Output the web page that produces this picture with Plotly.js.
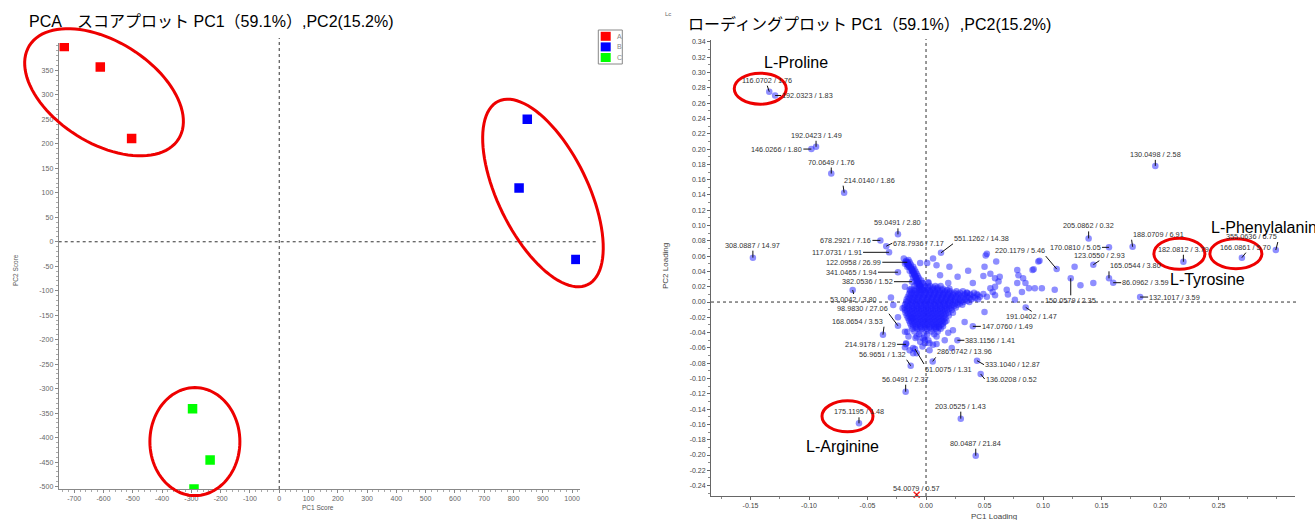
<!DOCTYPE html>
<html><head><meta charset="utf-8">
<script src="https://cdn.plot.ly/plotly-3.0.1.min.js"></script>
<style>html,body{margin:0;padding:0;background:#fff}#chart{width:1315px;height:520px}</style>
</head><body><div id="chart"></div>
<script>
// ================= DATA =================
// --- Score plot (left)
const groupNames  = ['A', 'B', 'C'];
const groupColors = ['#ff0000', '#0000ff', '#00ff00'];
const scoreAX = [-734, -611, -504];
const scoreAY = [399, 357, 211];
const scoreBX = [847, 819, 1013];
const scoreBY = [250, 110, -36];
const scoreCX = [-296, -236, -291];
const scoreCY = [-341, -446, -505];
const scoreXTickVals = [-700, -600, -500, -400, -300, -200, -100, 0, 100, 200, 300, 400, 500, 600, 700, 800, 900, 1000];
const scoreXTickText = ['-700', '-600', '-500', '-400', '-300', '-200', '-100', '0', '100', '200', '300', '400', '500', '600', '700', '800', '900', '1000'];
const scoreYTickVals = [-500, -450, -400, -350, -300, -250, -200, -150, -100, -50, 0, 50, 100, 150, 200, 250, 300, 350];
const scoreYTickText = ['-500', '-450', '-400', '-350', '-300', '-250', '-200', '-150', '-100', '-50', '0', '50', '100', '150', '200', '250', '300', '350'];

// --- Loading plot (right): labelled features
const loadLabels = ['116.0702 / 1.76', '192.0323 / 1.83', '192.0423 / 1.49', '146.0266 / 1.80', '70.0649 / 1.76', '214.0140 / 1.86',
  '130.0498 / 2.58', '308.0887 / 14.97', '59.0491 / 2.80', '678.2921 / 7.16', '678.7936 / 7.17', '117.0731 / 1.91',
  '122.0958 / 26.99', '341.0465 / 1.94', '382.0536 / 1.52', '53.0042 / 3.80', '98.9830 / 27.06', '168.0654 / 3.53',
  '214.9178 / 1.29', '56.9651 / 1.32', '61.0075 / 1.31', '286.0742 / 13.96', '333.1040 / 12.87', '136.0208 / 0.52',
  '56.0491 / 2.37', '175.1195 / 1.48', '203.0525 / 1.43', '80.0487 / 21.84', '551.1262 / 14.38', '220.1179 / 5.46',
  '205.0862 / 0.32', '170.0810 / 5.05', '123.0550 / 2.93', '188.0709 / 6.91', '165.0544 / 3.80', '86.0962 / 3.59',
  '150.0579 / 2.35', '132.1017 / 3.59', '191.0402 / 1.47', '147.0760 / 1.49', '383.1156 / 1.41', '182.0812 / 3.79',
  '166.0861 / 5.70', '355.0636 / 6.75'];
const loadX = [-0.134, -0.129, -0.094, -0.098, -0.081, -0.070,
  0.196, -0.148, -0.024, -0.039, -0.034, -0.0316,
  -0.016, -0.024, -0.012, -0.0627, -0.024, -0.0368,
  -0.0171, -0.0131, -0.0094, 0.0057, 0.0436, 0.0467,
  -0.0174, -0.0573, 0.0297, 0.0425, 0.0128, 0.1117,
  0.139, 0.1564, 0.143, 0.1766, 0.1564, 0.160,
  0.1237, 0.183, 0.0852, 0.040, 0.0268, 0.220,
  0.270, 0.299];
const loadY = [0.275, 0.270, 0.203, 0.200, 0.168, 0.143,
  0.178, 0.058, 0.0885, 0.0806, 0.073, 0.065,
  0.052, 0.039, 0.0266, 0.0157, -0.031, -0.0427,
  -0.0553, -0.0833, -0.0614, -0.0776, -0.0767, -0.0941,
  -0.1172, -0.1586, -0.1525, -0.2009, 0.0644, 0.0431,
  0.0832, 0.0715, 0.0488, 0.0723, 0.031, 0.0253,
  0.031, 0.0065, -0.007, -0.0318, -0.050, 0.0527,
  0.058, 0.068];
// off-scale feature (drawn as red cross on the lower edge)
const offLabels = ['54.0079 / 0.57'];
const offX = [-0.008];
const offY = [-0.252];

// --- Loading plot: unlabelled features (dense cloud), rows of [pc2, [pc1...]]
const cloudRows = [
  [0.025,  [-0.0075, -0.003, 0.002]],
  [0.021,  [-0.010, -0.0055, -0.001, 0.0035, 0.008, 0.0125]],
  [0.0175, [-0.0125, -0.008, -0.0035, 0.001, 0.0055, 0.0095, 0.0145, 0.020]],
  [0.014,  [-0.0135, -0.009, -0.005, -0.0005, 0.0035, 0.0075, 0.0115, 0.016, 0.0205, 0.026, 0.0315]],
  [0.0105, [-0.0145, -0.0105, -0.006, -0.002, 0.0025, 0.0065, 0.0105, 0.0145, 0.0185, 0.023, 0.0275, 0.033, 0.038, 0.0435, 0.049]],
  [0.007,  [-0.0155, -0.011, -0.007, -0.003, 0.0015, 0.0055, 0.0095, 0.0135, 0.0175, 0.0215, 0.0255, 0.030, 0.035, 0.0405, 0.046, 0.052]],
  [0.0035, [-0.0165, -0.012, -0.008, -0.0035, 0.0005, 0.0045, 0.0085, 0.0125, 0.0165, 0.0205, 0.0245, 0.029, 0.034, 0.039, 0.0445]],
  [0.0,    [-0.017, -0.013, -0.009, -0.005, -0.001, 0.003, 0.007, 0.011, 0.015, 0.019, 0.023, 0.0275, 0.032, 0.037]],
  [-0.0035,[-0.018, -0.014, -0.0095, -0.0055, -0.0015, 0.0025, 0.0065, 0.0105, 0.0145, 0.0185, 0.0225, 0.027, 0.031]],
  [-0.007, [-0.0185, -0.0145, -0.0105, -0.0065, -0.0025, 0.0015, 0.0055, 0.0095, 0.0135, 0.0175, 0.0215, 0.0255]],
  [-0.0105,[-0.018, -0.014, -0.010, -0.006, -0.002, 0.002, 0.006, 0.010, 0.014, 0.018, 0.022]],
  [-0.014, [-0.0175, -0.0135, -0.0095, -0.0055, -0.0015, 0.0025, 0.0065, 0.0105, 0.0145, 0.019]],
  [-0.0175,[-0.0165, -0.0125, -0.0085, -0.0045, -0.0005, 0.0035, 0.0075, 0.0115, 0.0155, 0.0195]],
  [-0.021, [-0.0155, -0.0115, -0.0075, -0.0035, 0.0005, 0.0045, 0.0085, 0.0125, 0.0165]],
  [-0.0245,[-0.0145, -0.0105, -0.0065, -0.0025, 0.0015, 0.0055, 0.0095, 0.0135, 0.0175]],
  [-0.028, [-0.0135, -0.0095, -0.0055, -0.0015, 0.0025, 0.0065, 0.0105, 0.0145]],
  [-0.0315,[-0.0125, -0.0085, -0.0045, -0.0005, 0.0035, 0.0075, 0.011, 0.0145]],
  [-0.035, [-0.0115, -0.0075, -0.0035, 0.0005, 0.0045, 0.0085, 0.0125]],
  [-0.0385,[-0.010, -0.005, 0.000, 0.005, 0.010]],
  [-0.042, [-0.006, 0.001, 0.007]],
  [-0.0455,[-0.0015]],
  [-0.050, [0.002]]
];
// interleaved rows of the dense core
const cloudRows2 = [
  [0.019,   [-0.006, -0.002, 0.002, 0.006, 0.010]],
  [0.0158,  [-0.010, -0.006, -0.002, 0.002, 0.006, 0.010, 0.014, 0.018]],
  [0.0122,  [-0.012, -0.008, -0.004, 0.000, 0.004, 0.008, 0.012, 0.016, 0.020, 0.024, 0.029, 0.035, 0.041]],
  [0.0088,  [-0.013, -0.009, -0.005, -0.001, 0.003, 0.007, 0.011, 0.015, 0.019, 0.023, 0.028, 0.033, 0.038, 0.044]],
  [0.0052,  [-0.014, -0.010, -0.006, -0.002, 0.002, 0.006, 0.010, 0.014, 0.018, 0.022, 0.027, 0.032, 0.037, 0.042]],
  [0.0018,  [-0.015, -0.011, -0.007, -0.003, 0.001, 0.005, 0.009, 0.013, 0.017, 0.021, 0.025, 0.030, 0.035]],
  [-0.0018, [-0.016, -0.012, -0.008, -0.004, 0.000, 0.004, 0.008, 0.012, 0.016, 0.020, 0.025, 0.029]],
  [-0.0052, [-0.016, -0.012, -0.008, -0.004, 0.000, 0.004, 0.008, 0.012, 0.016, 0.020, 0.024]],
  [-0.0088, [-0.016, -0.012, -0.008, -0.004, 0.000, 0.004, 0.008, 0.012, 0.016, 0.020]],
  [-0.0122, [-0.016, -0.012, -0.008, -0.004, 0.000, 0.004, 0.008, 0.012, 0.016]],
  [-0.0158, [-0.015, -0.011, -0.007, -0.003, 0.001, 0.005, 0.009, 0.013, 0.017]],
  [-0.0192, [-0.014, -0.010, -0.006, -0.002, 0.002, 0.006, 0.010, 0.014]],
  [-0.0228, [-0.013, -0.009, -0.005, -0.001, 0.003, 0.007, 0.011, 0.015]],
  [-0.0262, [-0.012, -0.008, -0.004, 0.000, 0.004, 0.008, 0.012]],
  [-0.0298, [-0.011, -0.007, -0.003, 0.001, 0.005, 0.009, 0.013]],
  [-0.0332, [-0.009, -0.005, -0.001, 0.003, 0.007, 0.011]]
];
const cloudArm = [
  [-0.019, 0.057], [-0.017, 0.054], [-0.016, 0.051], [-0.015, 0.048], [-0.013, 0.045], [-0.012, 0.042], [-0.011, 0.039],
  [-0.010, 0.036], [-0.009, 0.033], [-0.008, 0.030], [-0.007, 0.027], [-0.006, 0.024], [-0.005, 0.021],
  [-0.015, 0.055], [-0.014, 0.052], [-0.013, 0.049], [-0.011, 0.046], [-0.010, 0.043], [-0.009, 0.040], [-0.008, 0.037],
  [-0.007, 0.034], [-0.006, 0.031], [-0.004, 0.028], [-0.003, 0.025],
  [-0.018, 0.050], [-0.016, 0.046], [-0.014, 0.041], [-0.012, 0.036], [-0.011, 0.032], [-0.009, 0.028], [-0.008, 0.024],
  [-0.0175, 0.0525], [-0.0155, 0.0495], [-0.0145, 0.0465], [-0.0125, 0.0435], [-0.0115, 0.0405], [-0.0105, 0.0375],
  [-0.0095, 0.0345], [-0.0085, 0.0315], [-0.0075, 0.0285], [-0.0065, 0.0255], [-0.0055, 0.0225], [-0.0045, 0.0195], [-0.0035, 0.0165]
];
const cloudScatter = [
  [0.051, 0.061], [0.060, 0.053], [0.006, 0.057], [-0.005, 0.051], [-0.015, 0.048], [0.009, 0.048], [0.020, 0.046],
  [0.036, 0.041], [0.049, 0.034], [0.027, 0.033], [0.059, 0.031], [0.012, 0.035], [0.002, 0.026], [0.019, 0.025],
  [0.040, 0.025], [0.055, 0.018], [0.035, 0.012], [-0.020, -0.008], [-0.024, -0.020], [0.023, -0.014], [0.033, -0.026],
  [0.023, -0.037], [0.016, -0.026], [0.009, -0.033], [-0.018, -0.039], [-0.009, -0.047], [-0.003, -0.047], [-0.001, -0.054],
  [0.006, -0.056], [0.016, -0.050], [0.022, -0.060], [-0.014, -0.063], [-0.008, -0.067], [-0.028, -0.004], [0.050, -0.013],
  [0.096, 0.053], [0.091, 0.042], [0.078, 0.042], [0.079, 0.035], [0.083, 0.031], [0.063, 0.033], [0.062, 0.027],
  [0.059, 0.020], [0.057, 0.013], [0.059, 0.009], [0.069, 0.016], [0.070, 0.010], [0.078, 0.025], [0.085, 0.025],
  [0.082, 0.013], [0.088, 0.018], [0.093, 0.018], [0.099, 0.018], [0.110, 0.016], [0.076, 0.003], [0.127, 0.046],
  [0.132, 0.022], [0.143, 0.025], [0.055, 0.037], [0.052, 0.063], [0.050, 0.046], [0.097, 0.054], [0.092, 0.043],
  [-0.018, 0.020], [-0.030, 0.006], [-0.014, 0.016], [-0.012, 0.042], [0.001, 0.051], [-0.012, -0.021], [-0.016, -0.039],
  [-0.015, -0.045], [-0.008, -0.045], [-0.001, -0.050], [0.009, -0.045], [0.019, -0.040], [-0.017, -0.054], [-0.018, -0.059],
  [-0.011, -0.060], [-0.003, -0.058], [0.003, -0.054], [0.009, -0.055], [-0.011, -0.067], [0.003, -0.063], [-0.005, -0.052]
];
const loadXTickVals = [-0.15, -0.10, -0.05, 0, 0.05, 0.10, 0.15, 0.20, 0.25];
const loadXTickText = ['-0.15', '-0.10', '-0.05', '0.00', '0.05', '0.10', '0.15', '0.20', '0.25'];
const loadYTickVals = [-0.24, -0.22, -0.20, -0.18, -0.16, -0.14, -0.12, -0.10, -0.08, -0.06, -0.04, -0.02, 0,
  0.02, 0.04, 0.06, 0.08, 0.10, 0.12, 0.14, 0.16, 0.18, 0.20, 0.22, 0.24, 0.26, 0.28, 0.30, 0.32, 0.34];
const loadYTickText = ['-0.24', '-0.22', '-0.20', '-0.18', '-0.16', '-0.14', '-0.12', '-0.10', '-0.08', '-0.06', '-0.04', '-0.02', '0.00',
  '0.02', '0.04', '0.06', '0.08', '0.10', '0.12', '0.14', '0.16', '0.18', '0.20', '0.22', '0.24', '0.26', '0.28', '0.30', '0.32', '0.34'];

// ================= LAYOUT HELPERS (positions / styles) =================
const W = 1315, H = 520;
const px = p => p / W, py = p => 1 - p / H;
const L = {x0: 58.7, x1: 580, yb: 489, yt: 43, xr: [-753, 1027], yr: [-505, 406]};
const R = {x0: 711, x1: 1295, yb: 496, yt: 40, xr: [-0.1838, 0.3154], yr: [-0.2536, 0.3426]};
const toPx = (A, v) => A.x0 + (v - A.xr[0]) / (A.xr[1] - A.xr[0]) * (A.x1 - A.x0);
const toPy = (A, v) => A.yb - (v - A.yr[0]) / (A.yr[1] - A.yr[0]) * (A.yb - A.yt);

const FONT = 'Arial, "Liberation Sans", "Noto Sans CJK JP", sans-serif';
const PT_COLOR = 'rgba(30,30,255,0.5)';

// label placement: [dx, dy(screen px, down+), xanchor, yanchor]
const labelPos = [[-2,-6,'center','bottom'],[6,0,'left','middle'],[0,-6,'center','bottom'],[-8,0,'right','middle'],[0,-6,'center','bottom'],[-1,-7,'left','bottom'],
  [0,-6,'center','bottom'],[0,-7,'center','bottom'],[0,-6,'center','bottom'],[-8,0,'right','middle'],[6,-3,'left','middle'],[-26,0,'right','middle'],
  [-25,0,'right','middle'],[-20,0,'right','middle'],[-18,0,'right','middle'],[1,4,'center','top'],[-9,-12,'right','bottom'],[1,-8,'right','bottom'],
  [-9,0,'right','middle'],[-4,-6,'right','bottom'],[9,15,'left','top'],[3,-4,'left','bottom'],[7,4,'left','middle'],[4,5,'left','middle'],
  [0,-7,'center','bottom'],[0,-6,'center','bottom'],[0,-7,'center','bottom'],[0,-7,'center','bottom'],[12,-9,'left','bottom'],[-11,-13,'right','bottom'],
  [0,-7,'center','bottom'],[-7,0,'right','middle'],[6,-4,'center','bottom'],[-1,-7,'left','bottom'],[0,-7,'left','bottom'],[8,0,'left','middle'],
  [0,17,'center','top'],[8,0,'left','middle'],[6,4,'center','top'],[8,0,'left','middle'],[7,0,'left','middle'],[0,-7,'center','bottom'],
  [4,-5,'center','bottom'],[2,-8,'right','bottom']];
const offPos = [[0,-1,'center','bottom']];

// highlighted compounds: [anchor label, name, dx, dy, xanchor, ellipse ox, oy, rx, ry]
const highlights = [
  ['116.0702 / 1.76', 'L-Proline', 27, -29, 'center', -9, -3, 26, 15.5],
  ['182.0812 / 3.79', 'L-Tyrosine', 24, 18, 'center', -4, -8, 25.5, 15.5],
  ['166.0861 / 5.70', 'L-Phenylalanin', -33, -30, 'left', -6, -4, 26, 15],
  ['175.1195 / 1.48', 'L-Arginine', -16, 23, 'center', -11.5, -7, 25.5, 15.5]
];
// score-plot group ellipses: offset from group centroid (px), semi-axes (px), rotation (deg, clockwise)
const groupEllipses = [[5.3, 8.3, 88, 51, 32], [2.2, 4.1, 102, 45, 64], [-4, -11, 45, 54, 0]];

// ================= TRACES =================
const scoreSets = [[scoreAX, scoreAY], [scoreBX, scoreBY], [scoreCX, scoreCY]];
const traces = [];
scoreSets.forEach((s, i) => traces.push({
  type: 'scatter', mode: 'markers', x: s[0], y: s[1], xaxis: 'x', yaxis: 'y', name: groupNames[i],
  marker: {symbol: 'square', size: 9.5, color: groupColors[i]}, hoverinfo: 'skip', showlegend: false
}));

const cX = [], cY = [];
cloudRows.concat(cloudRows2).forEach(r => r[1].forEach(v => { cX.push(v); cY.push(r[0]); }));
cloudArm.concat(cloudScatter).forEach(p => { cX.push(p[0]); cY.push(p[1]); });
traces.push({type: 'scatter', mode: 'markers', x: cX, y: cY, xaxis: 'x2', yaxis: 'y2', hoverinfo: 'skip', showlegend: false,
  marker: {size: 6.5, color: PT_COLOR}});
traces.push({type: 'scatter', mode: 'markers', x: loadX, y: loadY, xaxis: 'x2', yaxis: 'y2', hoverinfo: 'skip', showlegend: false,
  marker: {size: 6.5, color: PT_COLOR}});
traces.push({type: 'scatter', mode: 'markers', x: offX, y: offY, xaxis: 'x2', yaxis: 'y2', hoverinfo: 'skip', showlegend: false,
  cliponaxis: false, marker: {size: 6, symbol: 'x-thin', color: '#ff2020', line: {color: '#ff2020', width: 1.5}}});

// ================= SHAPES & ANNOTATIONS =================
const shapes = [];
const ann = [];
const dotted = {color: '#333', width: 1, dash: 'dot'};
// zero lines
shapes.push({type: 'line', xref: 'paper', yref: 'paper', x0: px(toPx(L, 0)), x1: px(toPx(L, 0)), y0: py(L.yb), y1: py(38), line: dotted, layer: 'below'});
shapes.push({type: 'line', xref: 'paper', yref: 'paper', x0: px(L.x0), x1: px(598), y0: py(toPy(L, 0)), y1: py(toPy(L, 0)), line: dotted, layer: 'below'});
shapes.push({type: 'line', xref: 'paper', yref: 'paper', x0: px(toPx(R, 0)), x1: px(toPx(R, 0)), y0: py(R.yb), y1: py(39), line: dotted, layer: 'below'});
shapes.push({type: 'line', xref: 'paper', yref: 'paper', x0: px(R.x0), x1: px(1296), y0: py(toPy(R, 0)), y1: py(toPy(R, 0)), line: dotted, layer: 'below'});

// group ellipses (score plot), centred near each group's centroid, drawn unclipped
scoreSets.forEach((s, i) => {
  const e = groupEllipses[i];
  const mx = s[0].reduce((a, b) => a + b, 0) / s[0].length;
  const my = s[1].reduce((a, b) => a + b, 0) / s[1].length;
  const cx = toPx(L, mx) + e[0], cy = toPy(L, my) + e[1];
  const th = e[4] * Math.PI / 180;
  let d = '';
  for (let k = 0; k <= 96; k++) {
    const t = k / 96 * 2 * Math.PI;
    const ex = cx + e[2] * Math.cos(t) * Math.cos(th) - e[3] * Math.sin(t) * Math.sin(th);
    const ey = cy + e[2] * Math.cos(t) * Math.sin(th) + e[3] * Math.sin(t) * Math.cos(th);
    d += (k === 0 ? 'M' : 'L') + px(ex).toFixed(5) + ',' + py(ey).toFixed(5);
  }
  shapes.push({type: 'path', xref: 'paper', yref: 'paper', path: d + 'Z', line: {color: '#ee0000', width: 3}, layer: 'above'});
});

// labelled loading points: leader lines + texts
function addLabel(text, x, y, p) {
  shapes.push({type: 'line', xref: 'x2', yref: 'y2', xsizemode: 'pixel', ysizemode: 'pixel', xanchor: x, yanchor: y,
    x0: 0, y0: 0, x1: p[0], y1: -p[1], line: {color: '#111', width: 1}, layer: 'above'});
  ann.push({xref: 'x2', yref: 'y2', x: x, y: y, xshift: p[0], yshift: -p[1], xanchor: p[2], yanchor: p[3],
    text: text, showarrow: false, borderpad: 0, font: {family: FONT, size: 7.3, color: '#333'}});
}
loadLabels.forEach((t, i) => addLabel(t, loadX[i], loadY[i], labelPos[i]));
offLabels.forEach((t, i) => addLabel(t, offX[i], offY[i], offPos[i]));

// highlighted compounds
highlights.forEach(h => {
  const i = loadLabels.indexOf(h[0]);
  const x = loadX[i], y = loadY[i];
  shapes.push({type: 'circle', xref: 'x2', yref: 'y2', xsizemode: 'pixel', ysizemode: 'pixel', xanchor: x, yanchor: y,
    x0: h[5] - h[7], x1: h[5] + h[7], y0: -h[6] - h[8], y1: -h[6] + h[8], line: {color: '#ee0000', width: 3}, layer: 'above'});
  ann.push({xref: 'x2', yref: 'y2', x: x, y: y, xshift: h[2], yshift: -h[3], xanchor: h[4], yanchor: 'middle',
    text: h[1], showarrow: false, font: {family: FONT, size: 16, color: '#000'}});
});

// legend (score plot)
shapes.push({type: 'rect', xref: 'paper', yref: 'paper', x0: px(598.3), x1: px(622.3), y0: py(64), y1: py(30),
  line: {color: '#888', width: 1}, fillcolor: '#fff', layer: 'above'});
groupNames.forEach((g, i) => {
  const top = 31.8 + i * 10.6;
  shapes.push({type: 'rect', xref: 'paper', yref: 'paper', x0: px(600.7), x1: px(610.7), y0: py(top + 9), y1: py(top),
    line: {width: 0}, fillcolor: groupColors[i], layer: 'above'});
  ann.push({xref: 'paper', yref: 'paper', x: px(614.5), y: py(top + 4.5), xanchor: 'left', yanchor: 'middle', text: g,
    showarrow: false, font: {family: FONT, size: 7, color: '#888'}});
});

// titles and axis titles
ann.push({xref: 'paper', yref: 'paper', x: px(27), y: py(22), xanchor: 'left', yanchor: 'middle', showarrow: false,
  text: 'PCA　スコアプロット PC1（59.1%）,PC2(15.2%)', font: {family: FONT, size: 16, color: '#000'}});
ann.push({xref: 'paper', yref: 'paper', x: px(686), y: py(24), xanchor: 'left', yanchor: 'middle', showarrow: false,
  text: 'ローディングプロット PC1（59.1%）,PC2(15.2%)', font: {family: FONT, size: 16, color: '#000'}});
ann.push({xref: 'paper', yref: 'paper', x: px(663), y: py(14), xanchor: 'left', yanchor: 'middle', showarrow: false,
  text: 'Lc', font: {family: FONT, size: 6, color: '#666'}});
ann.push({xref: 'paper', yref: 'paper', x: px(318), y: py(507.5), xanchor: 'center', yanchor: 'middle', showarrow: false,
  text: 'PC1 Score', font: {family: FONT, size: 6.5, color: '#555'}});
ann.push({xref: 'paper', yref: 'paper', x: px(15), y: py(270), xanchor: 'center', yanchor: 'middle', showarrow: false, textangle: -90,
  text: 'PC2 Score', font: {family: FONT, size: 6.5, color: '#555'}});
ann.push({xref: 'paper', yref: 'paper', x: px(994), y: py(516), xanchor: 'center', yanchor: 'middle', showarrow: false,
  text: 'PC1 Loading', font: {family: FONT, size: 8, color: '#444'}});
ann.push({xref: 'paper', yref: 'paper', x: px(665), y: py(266), xanchor: 'center', yanchor: 'middle', showarrow: false, textangle: -90,
  text: 'PC2 Loading', font: {family: FONT, size: 8, color: '#444'}});

const axBase = {showgrid: false, zeroline: false, showline: true, linecolor: '#888', linewidth: 1, ticks: 'outside',
  ticklen: 3, tickcolor: '#888', fixedrange: true};
const layout = {
  width: W, height: H, margin: {l: 0, r: 0, t: 0, b: 0}, paper_bgcolor: '#fff', plot_bgcolor: 'rgba(0,0,0,0)',
  showlegend: false, font: {family: FONT},
  xaxis: Object.assign({}, axBase, {domain: [px(L.x0), px(L.x1)], range: L.xr, anchor: 'y', tickvals: scoreXTickVals, ticktext: scoreXTickText,
    tickfont: {size: 7, color: '#666'}, minor: {ticks: 'outside', ticklen: 2, dtick: 20, tickcolor: '#aaa'}}),
  yaxis: Object.assign({}, axBase, {domain: [py(L.yb), py(L.yt)], range: L.yr, anchor: 'x', tickvals: scoreYTickVals, ticktext: scoreYTickText,
    tickfont: {size: 7, color: '#666'}, minor: {ticks: 'outside', ticklen: 2, dtick: 10, tickcolor: '#aaa'}}),
  xaxis2: Object.assign({}, axBase, {domain: [px(R.x0), px(R.x1)], range: R.xr, anchor: 'y2', tickvals: loadXTickVals, ticktext: loadXTickText,
    tickfont: {size: 7, color: '#444'}, linecolor: '#666', tickcolor: '#666', minor: {ticks: 'outside', ticklen: 2, dtick: 0.025, tickcolor: '#888'}}),
  yaxis2: Object.assign({}, axBase, {domain: [py(R.yb), py(R.yt)], range: R.yr, anchor: 'x2', tickvals: loadYTickVals, ticktext: loadYTickText,
    tickfont: {size: 7, color: '#444'}, linecolor: '#666', tickcolor: '#666', minor: {ticks: 'outside', ticklen: 2, dtick: 0.01, tickcolor: '#888'}}),
  shapes: shapes,
  annotations: ann
};
Plotly.newPlot('chart', traces, layout, {displayModeBar: false, staticPlot: true});
</script>
</body></html>
